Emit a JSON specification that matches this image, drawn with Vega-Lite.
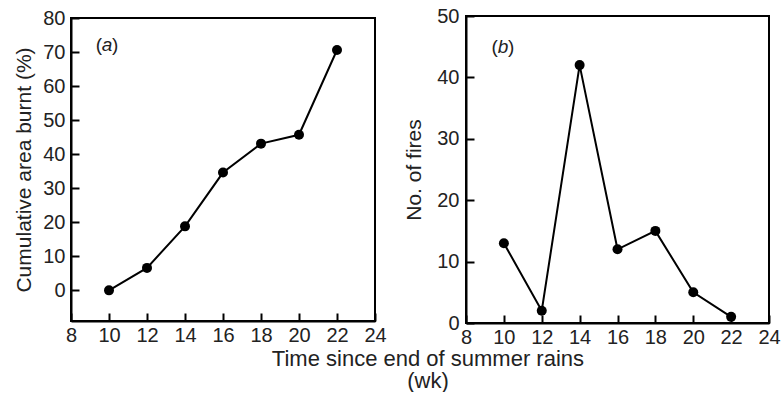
{
  "$schema": "https://vega.github.io/schema/vega-lite/v6.json",
  "background": "white",
  "padding": {"left": 12, "top": 5, "right": 0, "bottom": 0},
  "datasets": {
    "burnt": [
      {"week": 10, "pct": 0},
      {"week": 12, "pct": 6.6},
      {"week": 14, "pct": 18.8},
      {"week": 16, "pct": 34.6},
      {"week": 18, "pct": 43.1},
      {"week": 20, "pct": 45.7},
      {"week": 22, "pct": 70.6}
    ],
    "fires": [
      {"week": 10, "n": 13},
      {"week": 12, "n": 2},
      {"week": 14, "n": 42},
      {"week": 16, "n": 12},
      {"week": 18, "n": 15},
      {"week": 20, "n": 5},
      {"week": 22, "n": 1}
    ]
  },
  "title": {
    "text": ["Time since end of summer rains", "(wk)"],
    "orient": "bottom",
    "anchor": "middle",
    "font": "Liberation Sans",
    "fontSize": 22,
    "fontWeight": "normal",
    "color": "#222",
    "lineHeight": 22,
    "offset": 1,
    "dx": 31
  },
  "spacing": 14,
  "center": true,
  "config": {
    "font": "Liberation Sans",
    "view": {"stroke": "black", "strokeWidth": 2},
    "axis": {
      "grid": false,
      "domainColor": "black",
      "domainWidth": 2,
      "tickColor": "black",
      "tickWidth": 2,
      "tickSize": -8,
      "tickCount": 20,
      "labelFont": "Liberation Sans",
      "labelFontSize": 20,
      "labelColor": "#222",
      "labelFlush": false,
      "labelOverlap": false,
      "titleFont": "Liberation Sans",
      "titleFontSize": 21,
      "titleFontWeight": "normal",
      "titleColor": "#222"
    }
  },
  "hconcat": [
    {
      "width": 304,
      "height": 303,
      "layer": [
        {
          "data": {"name": "burnt"},
          "mark": {"type": "line", "color": "black", "strokeWidth": 2},
          "encoding": {
            "x": {
              "field": "week", "type": "quantitative",
              "scale": {"domain": [8, 24], "nice": false, "zero": false},
              "axis": {"values": [8, 10, 12, 14, 16, 18, 20, 22, 24], "tickCount": 20, "title": null, "labelPadding": 12}
            },
            "y": {
              "field": "pct", "type": "quantitative",
              "scale": {"domain": [-9, 80], "nice": false, "zero": false},
              "axis": {"values": [0, 10, 20, 30, 40, 50, 60, 70, 80], "tickCount": 20, "title": "Cumulative area burnt (%)", "labelPadding": 14, "titlePadding": 8}
            }
          }
        },
        {
          "data": {"name": "burnt"},
          "mark": {"type": "point", "filled": true, "color": "black", "size": 100, "opacity": 1},
          "encoding": {
            "x": {"field": "week", "type": "quantitative"},
            "y": {"field": "pct", "type": "quantitative"}
          }
        },
        {
          "data": {"values": [{}]},
          "mark": {"type": "text", "text": "(", "align": "right", "baseline": "middle", "fontSize": 19, "color": "#222", "dx": -5},
          "encoding": {"x": {"datum": 9.9}, "y": {"datum": 72}}
        },
        {
          "data": {"values": [{}]},
          "mark": {"type": "text", "text": "a", "align": "center", "baseline": "middle", "fontSize": 19, "fontStyle": "italic", "color": "#222"},
          "encoding": {"x": {"datum": 9.9}, "y": {"datum": 72}}
        },
        {
          "data": {"values": [{}]},
          "mark": {"type": "text", "text": ")", "align": "left", "baseline": "middle", "fontSize": 19, "color": "#222", "dx": 5},
          "encoding": {"x": {"datum": 9.9}, "y": {"datum": 72}}
        }
      ]
    },
    {
      "width": 303,
      "height": 307,
      "layer": [
        {
          "data": {"name": "fires"},
          "mark": {"type": "line", "color": "black", "strokeWidth": 2},
          "encoding": {
            "x": {
              "field": "week", "type": "quantitative",
              "scale": {"domain": [8, 24], "nice": false, "zero": false},
              "axis": {"values": [8, 10, 12, 14, 16, 18, 20, 22, 24], "tickCount": 20, "title": null, "labelPadding": 12}
            },
            "y": {
              "field": "n", "type": "quantitative",
              "scale": {"domain": [0, 50], "nice": false, "zero": false},
              "axis": {"values": [0, 10, 20, 30, 40, 50], "tickCount": 20, "title": "No. of fires", "labelPadding": 15, "titlePadding": 12}
            }
          }
        },
        {
          "data": {"name": "fires"},
          "mark": {"type": "point", "filled": true, "color": "black", "size": 100, "opacity": 1},
          "encoding": {
            "x": {"field": "week", "type": "quantitative"},
            "y": {"field": "n", "type": "quantitative"}
          }
        },
        {
          "data": {"values": [{}]},
          "mark": {"type": "text", "text": "(", "align": "right", "baseline": "middle", "fontSize": 19, "color": "#222", "dx": -5},
          "encoding": {"x": {"datum": 9.95}, "y": {"datum": 45}}
        },
        {
          "data": {"values": [{}]},
          "mark": {"type": "text", "text": "b", "align": "center", "baseline": "middle", "fontSize": 19, "fontStyle": "italic", "color": "#222"},
          "encoding": {"x": {"datum": 9.95}, "y": {"datum": 45}}
        },
        {
          "data": {"values": [{}]},
          "mark": {"type": "text", "text": ")", "align": "left", "baseline": "middle", "fontSize": 19, "color": "#222", "dx": 5},
          "encoding": {"x": {"datum": 9.95}, "y": {"datum": 45}}
        }
      ]
    }
  ]
}
